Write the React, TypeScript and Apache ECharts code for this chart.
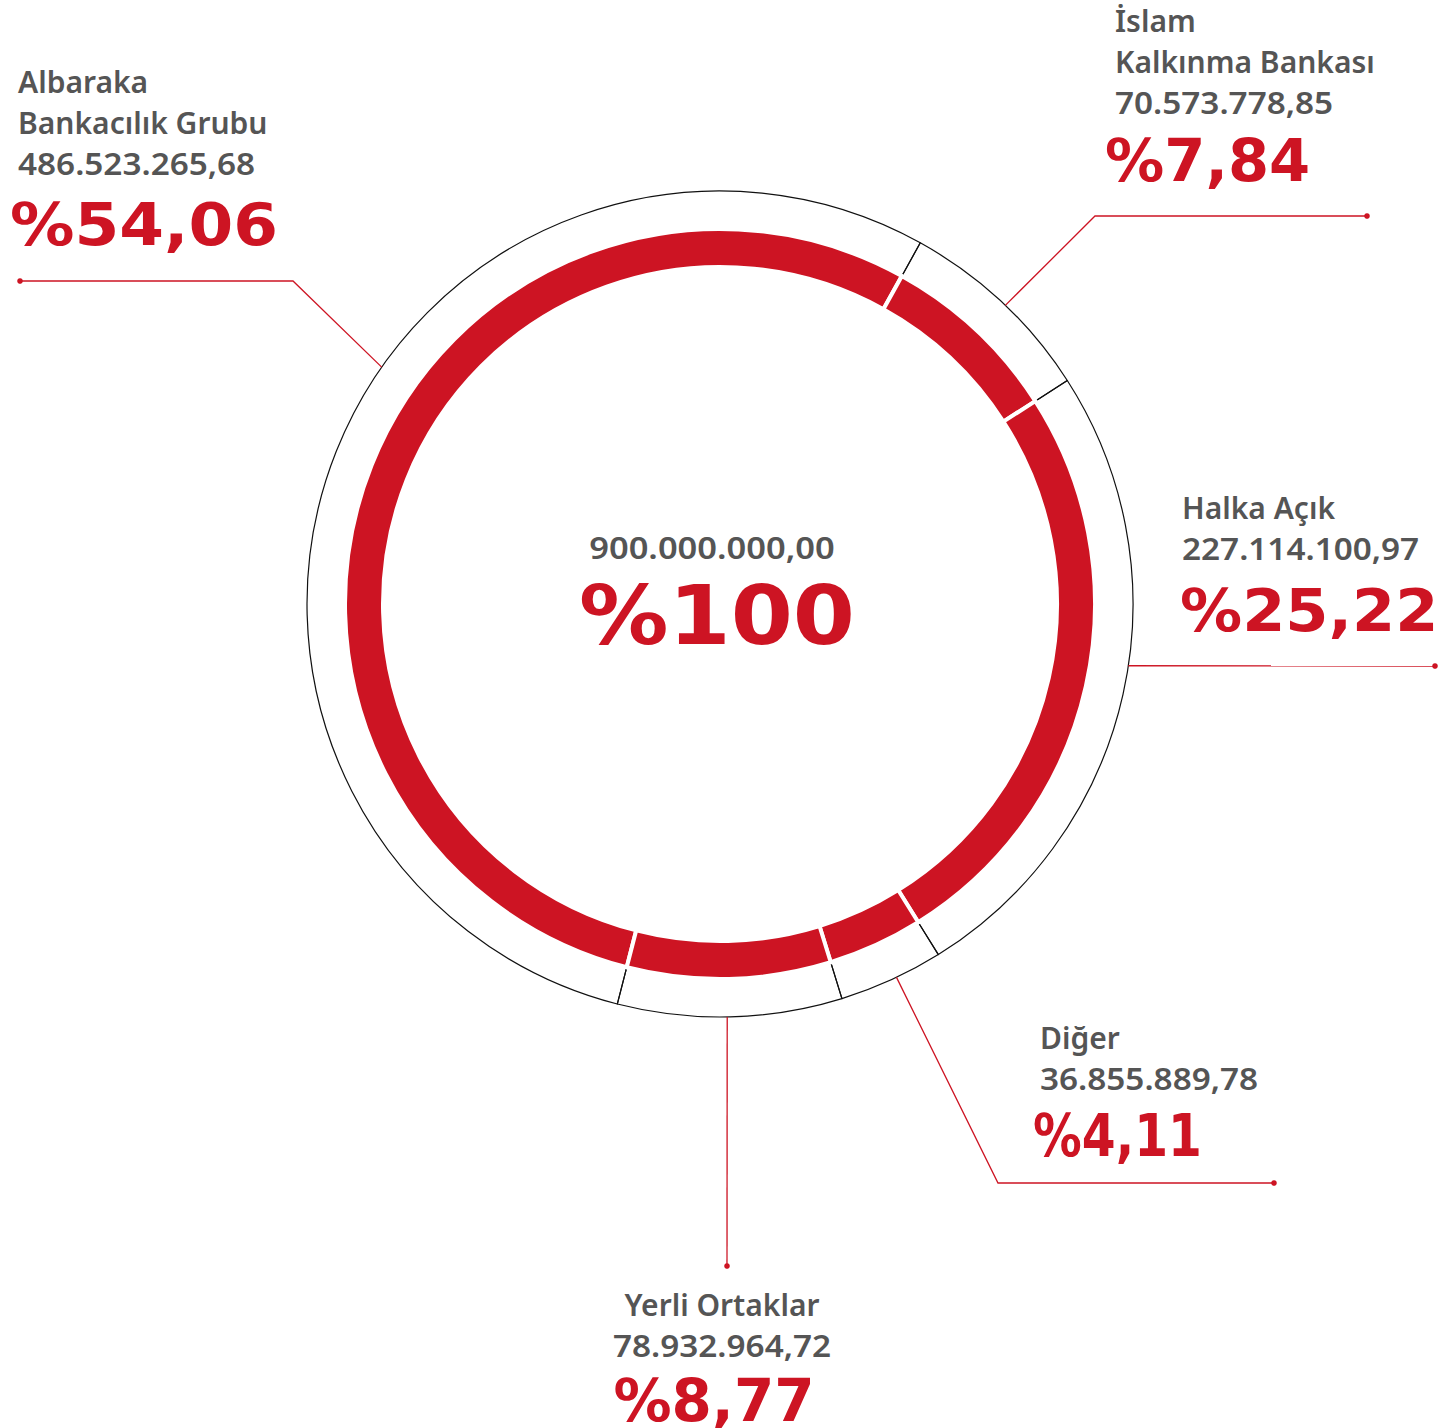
import React, { useEffect, useRef } from "react";
import * as echarts from "echarts";

// ---- Data ----
const names: string[] = ["Albaraka\nBankacılık Grubu", "İslam\nKalkınma Bankası", "Halka Açık", "Diğer", "Yerli Ortaklar"];
const amounts: number[] = [486523265.68, 70573778.85, 227114100.97, 36855889.78, 78932964.72];
const amountLabels: string[] = ["486.523.265,68", "70.573.778,85", "227.114.100,97", "36.855.889,78", "78.932.964,72"];
const percentLabels: string[] = ["%54,06", "%7,84", "%25,22", "%4,11", "%8,77"];
const totalLabel = "900.000.000,00";
const totalPercent = "%100";

// ---- Layout / style ----
const CX = 720;
const CY = 604;
const R_OUTER = 413;
const RED = "#CD1423";
const GRAY = "#555555";
const NAME_FONT = '600 30px "Noto Sans"';
const PCT_FONT = 'bold 58px "DejaVu Sans"';
const LINE_H = 41;
const VALUE_SCALE = 1.11;

type Layout = { x: number; align: string; base: number; pctX: number; pctBase: number; pctScale: number; angle: number; line: number[][] };
const layouts: Layout[] = [
  { x: 18, align: "left", base: 92, pctX: 10, pctBase: 246, pctScale: 1.11, angle: 305, line: [[293, 281], [20, 281]] },
  { x: 1115, align: "left", base: 31, pctX: 1105, pctBase: 182, pctScale: 1.02, angle: 43.7, line: [[1095, 216], [1367, 216]] },
  { x: 1182, align: "left", base: 518, pctX: 1180, pctBase: 632, pctScale: 1.07, angle: 98.6, line: [[1435, 666]] },
  { x: 1040, align: "left", base: 1048, pctX: 1033, pctBase: 1157, pctScale: 0.84, angle: 154.7, line: [[998, 1183], [1274, 1183]] },
  { x: 722, align: "center", base: 1315, pctX: 714, pctBase: 1422, pctScale: 1.0, angle: 179, line: [[727, 1266]] },
];

function polar(theta: number, r: number): number[] {
  const t = (theta * Math.PI) / 180;
  return [CX + r * Math.sin(t), CY - r * Math.cos(t)];
}

function txt(text: string, x: number, baseline: number, font: string, size: number, fill: string, align: string, scaleX = 1) {
  return {
    type: "text",
    silent: true,
    z: 10,
    x,
    y: baseline - size * 0.36,
    scaleX,
    scaleY: 1,
    style: {
      text,
      x: 0,
      y: 0,
      font,
      fill,
      align,
      textAlign: align,
      verticalAlign: "middle",
      textVerticalAlign: "middle",
    },
  };
}

export default function App() {
  const ref = useRef<HTMLDivElement>(null);
  useEffect(() => {
    if (!ref.current) return;
    const chart = echarts.init(ref.current, null, { renderer: "svg" });
    const data = names.map((n, i) => ({ name: n, value: amounts[i] }));
    const startTheta = 194.4; // clockwise from top, where first slice begins

    const graphics: any[] = [];
    names.forEach((n, i) => {
      const L = layouts[i];
      const nameLines = n.split("\n");
      nameLines.forEach((s, k) => graphics.push(txt(s, L.x, L.base + k * LINE_H, NAME_FONT, 30, GRAY, L.align)));
      graphics.push(txt(amountLabels[i], L.x, L.base + nameLines.length * LINE_H, NAME_FONT, 30, GRAY, L.align, VALUE_SCALE));
      graphics.push(txt(percentLabels[i], L.pctX, L.pctBase, PCT_FONT, 58, RED, L.align, L.pctScale));
      const pts = [polar(L.angle, R_OUTER), ...L.line];
      graphics.push({ type: "polyline", silent: true, z: 5, shape: { points: pts }, style: { stroke: RED, lineWidth: 1.3, fill: "none" } });
      const end = pts[pts.length - 1];
      graphics.push({ type: "circle", silent: true, z: 5, shape: { cx: end[0], cy: end[1], r: 2.8 }, style: { fill: RED } });
    });
    graphics.push(txt(totalLabel, 712, 558, NAME_FONT, 30, GRAY, "center", 1.15));
    graphics.push(txt(totalPercent, 717, 645, 'bold 82px "DejaVu Sans"', 82, RED, "center", 1.09));

    chart.setOption({
      animation: false,
      backgroundColor: "#ffffff",
      graphic: graphics,
      series: [
        {
          type: "pie",
          center: [CX, CY],
          radius: [372, R_OUTER],
          startAngle: 90 - startTheta + 360,
          clockwise: true,
          silent: true,
          z: 1,
          label: { show: false },
          labelLine: { show: false },
          emphasis: { disabled: true },
          itemStyle: { color: "rgba(0,0,0,0)", borderColor: "#111111", borderWidth: 1.2 },
          data,
        },
        {
          type: "pie",
          center: [CX, CY],
          radius: [337, 375],
          startAngle: 90 - startTheta + 360,
          clockwise: true,
          silent: true,
          z: 3,
          label: { show: false },
          labelLine: { show: false },
          emphasis: { disabled: true },
          itemStyle: { color: RED, borderColor: "#ffffff", borderWidth: 4 },
          data,
        },
      ],
    });
    return () => chart.dispose();
  }, []);
  return <div ref={ref} style={{ position: "absolute", left: 0, top: 0, width: 1452, height: 1428 }} />;
}
